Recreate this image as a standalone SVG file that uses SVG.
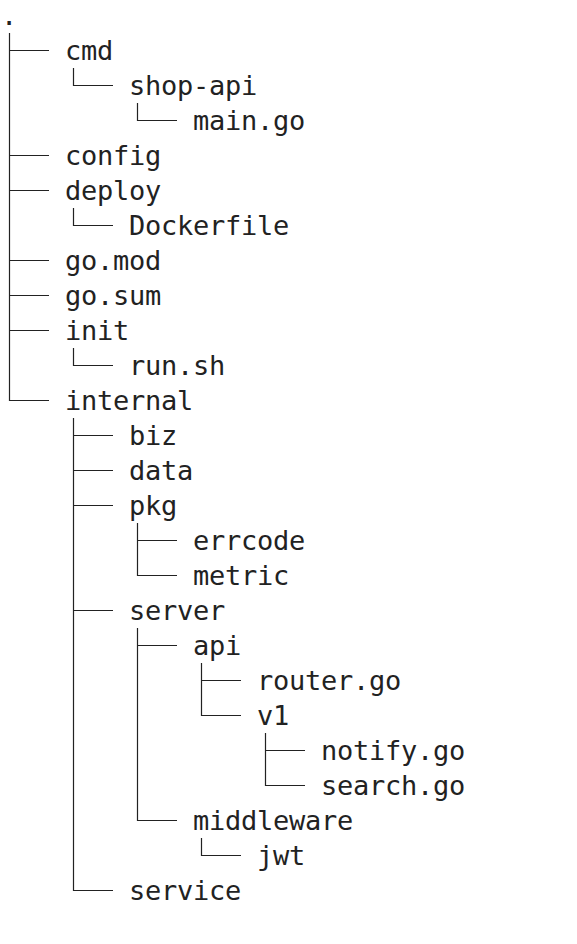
<svg xmlns="http://www.w3.org/2000/svg" width="577" height="944" viewBox="0 0 577 944">
<style>
.t{font-family:"DejaVu Sans Mono","Liberation Mono",monospace;font-size:27px;letter-spacing:-0.25px;fill:#222}
.c{fill:none;stroke:#222;stroke-width:1.2}
</style>
<rect width="577" height="944" fill="#fff"/>
<g id="connectors" class="c">
<path d="M9.5 33V400.5H49M9.5 50.5H49M9.5 155.5H49M9.5 190.5H49M9.5 260.5H49M9.5 295.5H49M9.5 330.5H49"/>
<path d="M73.5 68V85.5H113M73.5 208V225.5H113M73.5 348V365.5H113M73.5 418V890.5H113M73.5 435.5H113M73.5 470.5H113M73.5 505.5H113M73.5 610.5H113"/>
<path d="M137.5 103V120.5H177M137.5 523V575.5H177M137.5 540.5H177M137.5 628V820.5H177M137.5 645.5H177"/>
<path d="M201.5 663V715.5H241M201.5 680.5H241M201.5 838V855.5H241"/>
<path d="M265.5 733V785.5H305M265.5 750.5H305"/>
</g>
<g id="root"><text class="t" x="1" y="25">.</text></g>
<g id="cmd"><text class="t" x="65" y="60">cmd</text></g>
<g id="shop-api"><text class="t" x="129" y="95">shop-api</text></g>
<g id="main-go"><text class="t" x="193" y="130">main.go</text></g>
<g id="config"><text class="t" x="65" y="165">config</text></g>
<g id="deploy"><text class="t" x="65" y="200">deploy</text></g>
<g id="dockerfile"><text class="t" x="129" y="235">Dockerfile</text></g>
<g id="go-mod"><text class="t" x="65" y="270">go.mod</text></g>
<g id="go-sum"><text class="t" x="65" y="305">go.sum</text></g>
<g id="init"><text class="t" x="65" y="340">init</text></g>
<g id="run-sh"><text class="t" x="129" y="375">run.sh</text></g>
<g id="internal"><text class="t" x="65" y="410">internal</text></g>
<g id="biz"><text class="t" x="129" y="445">biz</text></g>
<g id="data"><text class="t" x="129" y="480">data</text></g>
<g id="pkg"><text class="t" x="129" y="515">pkg</text></g>
<g id="errcode"><text class="t" x="193" y="550">errcode</text></g>
<g id="metric"><text class="t" x="193" y="585">metric</text></g>
<g id="server"><text class="t" x="129" y="620">server</text></g>
<g id="api"><text class="t" x="193" y="655">api</text></g>
<g id="router-go"><text class="t" x="257" y="690">router.go</text></g>
<g id="v1"><text class="t" x="257" y="725">v1</text></g>
<g id="notify-go"><text class="t" x="321" y="760">notify.go</text></g>
<g id="search-go"><text class="t" x="321" y="795">search.go</text></g>
<g id="middleware"><text class="t" x="193" y="830">middleware</text></g>
<g id="jwt"><text class="t" x="257" y="865">jwt</text></g>
<g id="service"><text class="t" x="129" y="900">service</text></g>
</svg>
